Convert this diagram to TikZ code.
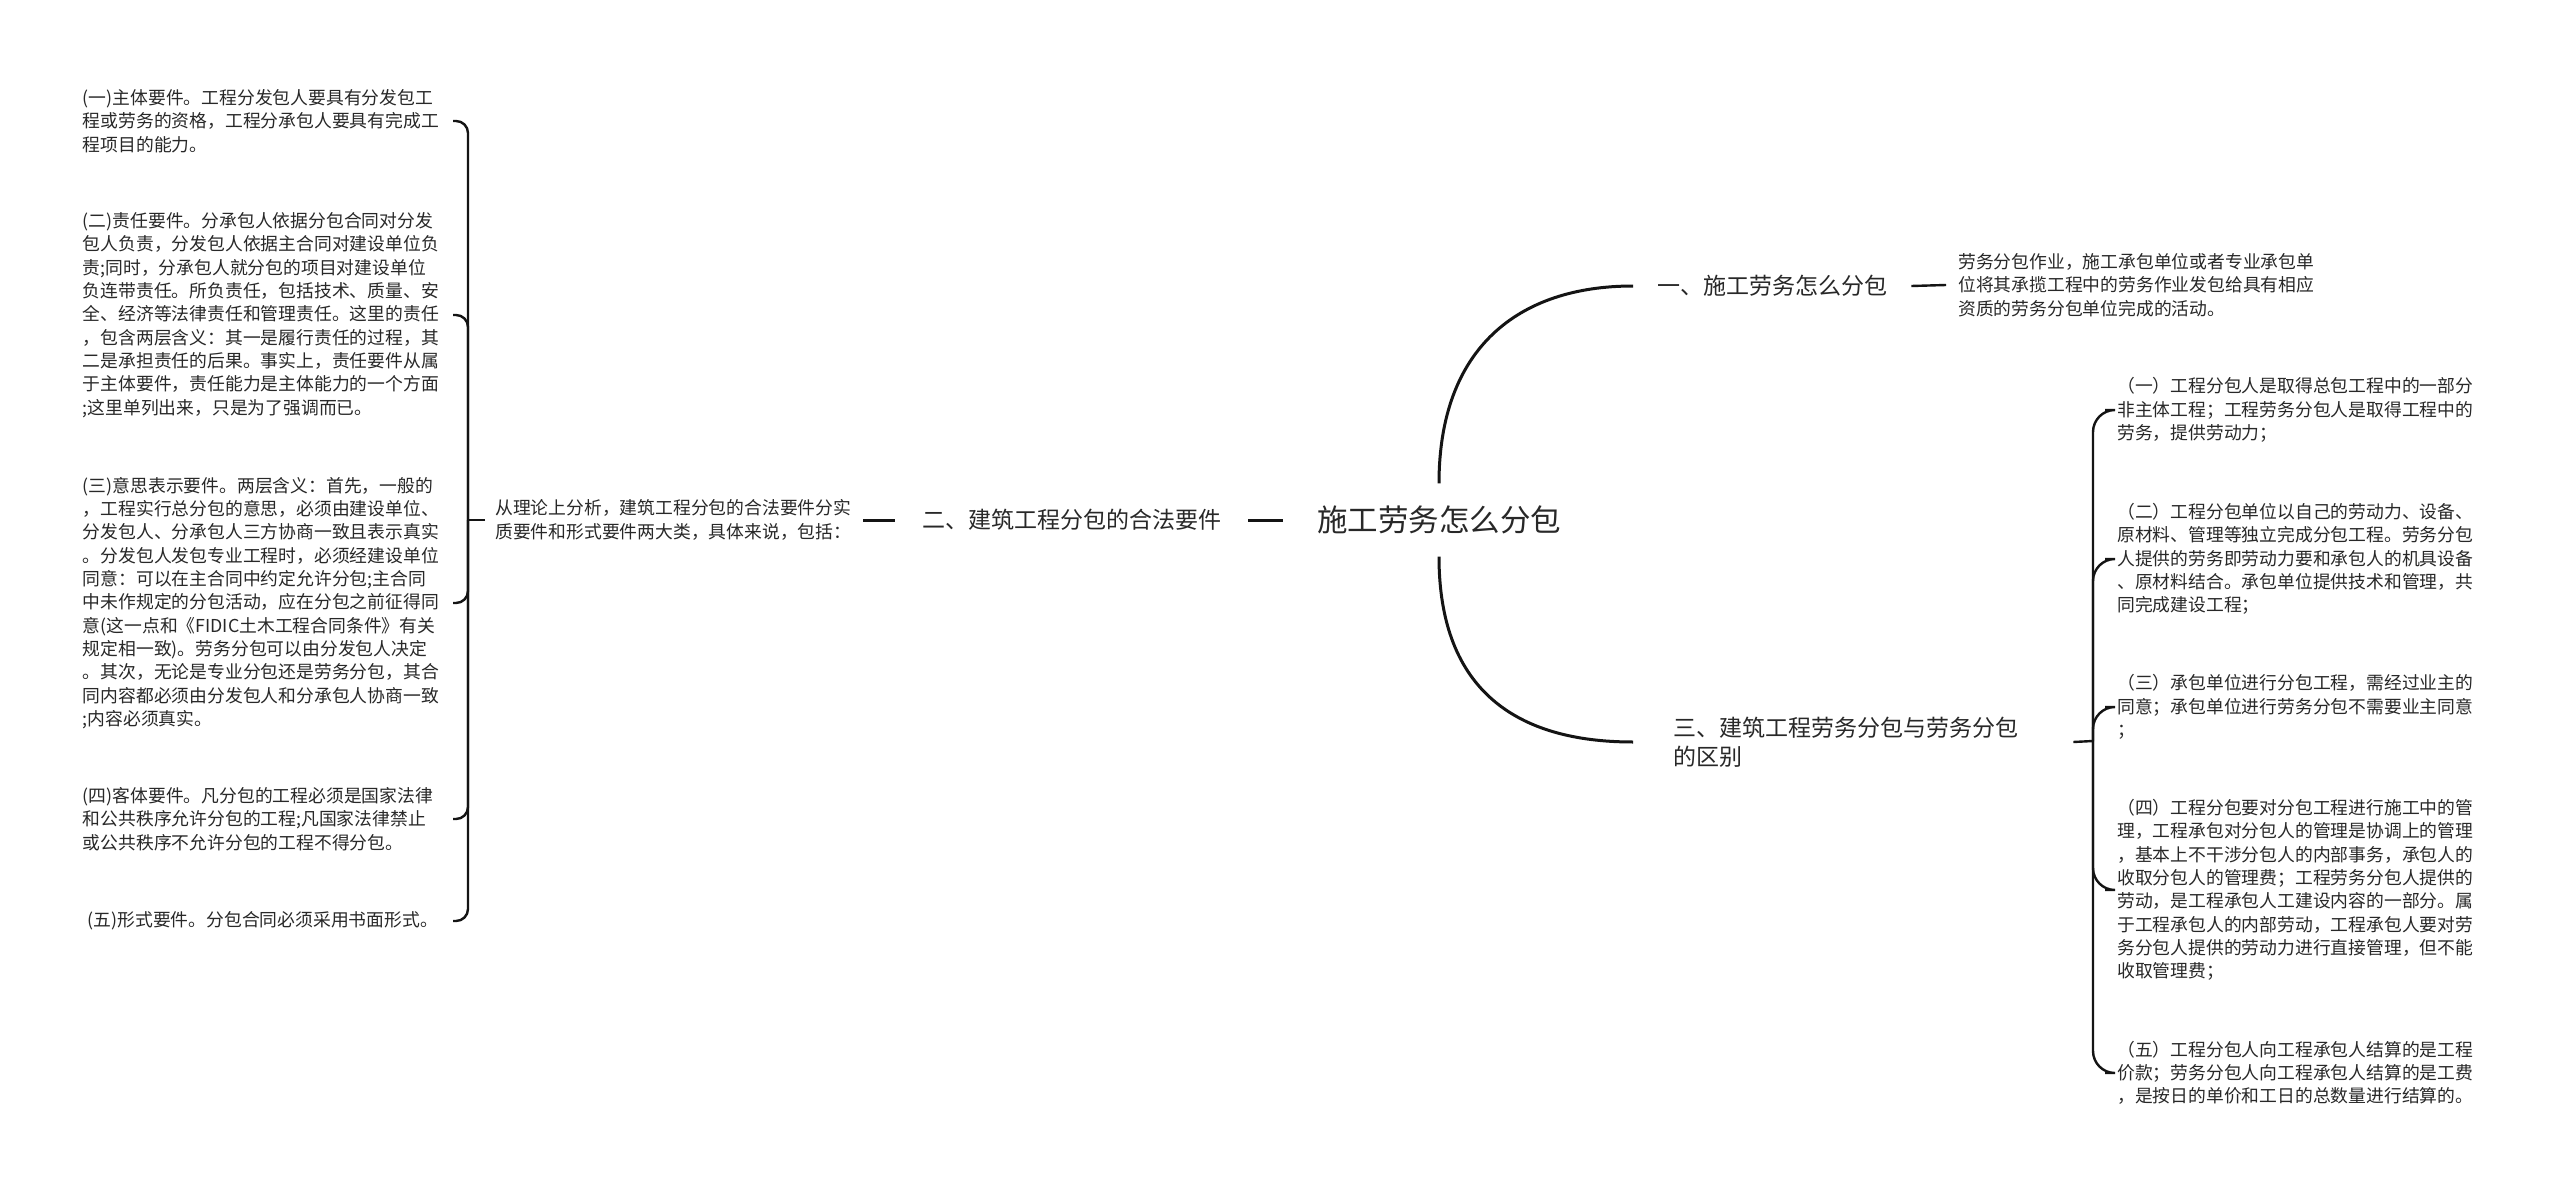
\documentclass[tikz,border=0pt]{standalone}
\usepackage{fontspec}
\newfontfamily\cjk{Noto Sans CJK SC}
\definecolor{txt}{RGB}{40,40,40}
\definecolor{ln}{RGB}{20,20,20}
\begin{document}
\begin{tikzpicture}[x=1pt,y=-1pt,
  every node/.style={font=\cjk, text=txt},
  rootnode/.style={font=\cjk\fontsize{30.5}{36}\selectfont, inner xsep=34pt, inner ysep=0pt, minimum height=73pt},
  lvone/.style={font=\cjk\fontsize{23}{29}\selectfont, inner ysep=4pt},
  leaf/.style={font=\cjk\fontsize{17.8}{23.3}\selectfont, align=left, text width=360pt, inner xsep=10pt, inner ysep=2pt},
  conn/.style={draw=ln, line width=3pt},
  brk/.style={draw=ln, line width=2.4pt},
]
\useasboundingbox[fill=white] (0,0) rectangle (2560,1193);

% root and level one
\node[rootnode] (root) at (1439,520) {施工劳务怎么分包};
\node[lvone, inner xsep=27pt] (n2) at (1071.5,520) {二、建筑工程分包的合法要件};
\node[leaf, text width=358pt, inner xsep=10pt, anchor=west] (para) at (485,520)
  {从理论上分析，建筑工程分包的合法要件分实\\质要件和形式要件两大类，具体来说，包括：};
\node[lvone, inner xsep=24pt, anchor=west] (n1) at (1633,286) {一、施工劳务怎么分包};
\node[leaf, inner xsep=12pt, anchor=west] (desc) at (1946,285)
  {劳务分包作业，施工承包单位或者专业承包单\\位将其承揽工程中的劳务作业发包给具有相应\\资质的劳务分包单位完成的活动。};
\node[lvone, inner xsep=40pt, text width=360pt, align=left, anchor=west] (n3) at (1633,742)
  {三、建筑工程劳务分包与劳务分包\\的区别};

\draw[conn] (root.west) -- (n2.east);
\draw[conn] (n2.west) -- (para.east);
\draw[conn] (root.north) .. controls +(0,-135) and +(-115,0) .. (n1.west);
\draw[conn] (root.south) .. controls +(0,135) and +(-115,0) .. (n3.west);
\draw[brk] (n1.east) -- (desc.west);

% left bracket
\coordinate (hl) at (468,520);
\node[leaf, anchor=east] (l1) at (453,121)
  {(一)主体要件。工程分发包人要具有分发包工\\程或劳务的资格，工程分承包人要具有完成工\\程项目的能力。};
\node[leaf, anchor=east] (l2) at (453,315)
  {(二)责任要件。分承包人依据分包合同对分发\\包人负责，分发包人依据主合同对建设单位负\\责;同时，分承包人就分包的项目对建设单位\\负连带责任。所负责任，包括技术、质量、安\\全、经济等法律责任和管理责任。这里的责任\\，包含两层含义：其一是履行责任的过程，其\\二是承担责任的后果。事实上，责任要件从属\\于主体要件，责任能力是主体能力的一个方面\\;这里单列出来，只是为了强调而已。};
\node[leaf, anchor=east] (l3) at (453,603)
  {(三)意思表示要件。两层含义：首先，一般的\\，工程实行总分包的意思，必须由建设单位、\\分发包人、分承包人三方协商一致且表示真实\\。分发包人发包专业工程时，必须经建设单位\\同意：可以在主合同中约定允许分包;主合同\\中未作规定的分包活动，应在分包之前征得同\\意(这一点和《FIDIC土木工程合同条件》有关\\规定相一致)。劳务分包可以由分发包人决定\\。其次，无论是专业分包还是劳务分包，其合\\同内容都必须由分发包人和分承包人协商一致\\;内容必须真实。};
\node[leaf, anchor=east] (l4) at (453,819)
  {(四)客体要件。凡分包的工程必须是国家法律\\和公共秩序允许分包的工程;凡国家法律禁止\\或公共秩序不允许分包的工程不得分包。};
\node[leaf, anchor=east, align=center] (l5) at (453,921)
  {(五)形式要件。分包合同必须采用书面形式。};

\draw[brk] (para.west) -- (hl);
\foreach \n in {l1,l2,l3,l4,l5}
  \draw[brk, rounded corners=12pt] (hl) |- (\n.east);

% right bracket
\coordinate (hr) at (2093,741);
\node[leaf, inner xsep=12pt, anchor=west] (r1) at (2105,410)
  {（一）工程分包人是取得总包工程中的一部分\\非主体工程；工程劳务分包人是取得工程中的\\劳务，提供劳动力；};
\node[leaf, inner xsep=12pt, anchor=west] (r2) at (2105,559)
  {（二）工程分包单位以自己的劳动力、设备、\\原材料、管理等独立完成分包工程。劳务分包\\人提供的劳务即劳动力要和承包人的机具设备\\、原材料结合。承包单位提供技术和管理，共\\同完成建设工程；};
\node[leaf, inner xsep=12pt, anchor=west] (r3) at (2105,707)
  {（三）承包单位进行分包工程，需经过业主的\\同意；承包单位进行劳务分包不需要业主同意\\；};
\node[leaf, inner xsep=12pt, anchor=west] (r4) at (2105,890)
  {（四）工程分包要对分包工程进行施工中的管\\理，工程承包对分包人的管理是协调上的管理\\，基本上不干涉分包人的内部事务，承包人的\\收取分包人的管理费；工程劳务分包人提供的\\劳动，是工程承包人工建设内容的一部分。属\\于工程承包人的内部劳动，工程承包人要对劳\\务分包人提供的劳动力进行直接管理，但不能\\收取管理费；};
\node[leaf, inner xsep=12pt, anchor=west] (r5) at (2105,1073)
  {（五）工程分包人向工程承包人结算的是工程\\价款；劳务分包人向工程承包人结算的是工费\\，是按日的单价和工日的总数量进行结算的。};

\draw[brk] (n3.east) -- (hr);
\foreach \n in {r1,r2,r3,r4,r5}
  \draw[brk, rounded corners=22pt] (hr) |- (\n.west);
\end{tikzpicture}
\end{document}
